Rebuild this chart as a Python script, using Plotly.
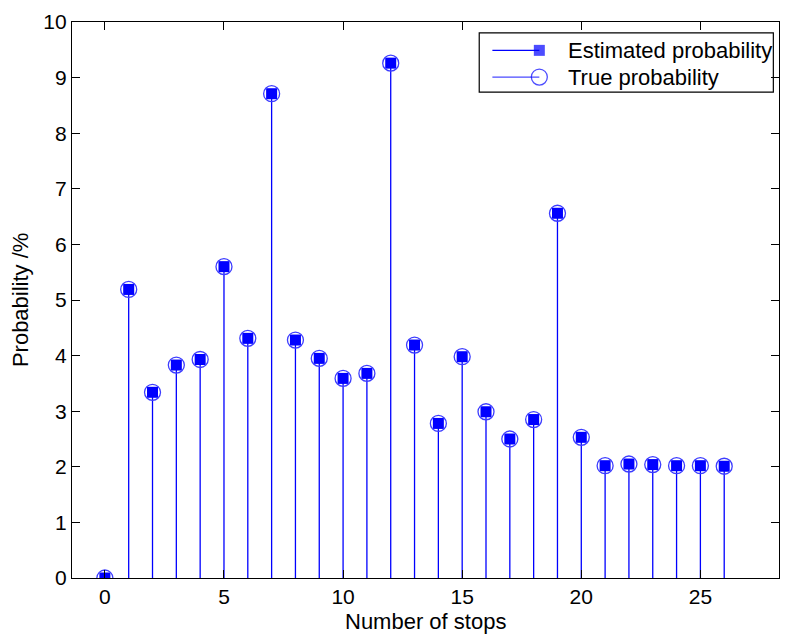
import plotly.graph_objects as go

stops = list(range(27))
estimated = [0.00, 5.19, 3.34, 3.83, 3.93, 5.60, 4.31, 8.71, 4.28, 3.95, 3.59, 3.68, 9.26,
             4.19, 2.78, 3.98, 2.99, 2.50, 2.85, 6.56, 2.53, 2.02, 2.05, 2.04, 2.02, 2.02, 2.01]
true_prob = [0.00, 5.19, 3.34, 3.83, 3.93, 5.60, 4.31, 8.71, 4.28, 3.95, 3.59, 3.68, 9.26,
             4.19, 2.78, 3.98, 2.99, 2.50, 2.85, 6.56, 2.53, 2.02, 2.05, 2.04, 2.02, 2.02, 2.01]
series_names = ["Estimated probability", "True probability"]
x_ticks = [0, 5, 10, 15, 20, 25]
y_ticks = list(range(11))

FONT = "Arial, Liberation Sans, Helvetica, sans-serif"
BLUE = "#0000ff"

fig = go.Figure()

# stems + squares (estimated)
fig.add_trace(go.Scatter(
    x=stops, y=estimated, mode="markers", showlegend=False,
    marker=dict(symbol="square", size=11, color=BLUE, line=dict(width=0)),
    error_y=dict(type="data", symmetric=False, array=[0] * len(estimated),
                 arrayminus=estimated, width=0, thickness=1.3, color=BLUE),
))
# circles (true)
fig.add_trace(go.Scatter(
    x=stops, y=true_prob, mode="markers", showlegend=False,
    marker=dict(symbol="circle-open", size=16, color="#3c3cff", line=dict(width=1.3, color="#3c3cff")),
))

# ---- custom legend drawn on an overlay axis in [0,1] ----
x0, x1, xt = 0.5946, 0.661, 0.6987
rows = [0.949, 0.901]
fig.add_trace(go.Scatter(
    x=[x0, x1], y=[rows[0], rows[0]], xaxis="x2", yaxis="y2", mode="lines+markers",
    showlegend=False, hoverinfo="skip",
    line=dict(color=BLUE, width=1.2),
    marker=dict(symbol="square", size=[0, 11], color=BLUE, line=dict(width=0)),
))
fig.add_trace(go.Scatter(
    x=[x0, x1], y=[rows[1], rows[1]], xaxis="x2", yaxis="y2", mode="lines+markers",
    showlegend=False, hoverinfo="skip",
    line=dict(color="#4a4aff", width=1.2),
    marker=dict(symbol="circle-open", size=[0, 16], color=BLUE, line=dict(width=1.3, color=BLUE)),
))

fig.add_shape(type="rect", xref="paper", yref="paper", x0=0.576, x1=0.992, y0=0.874, y1=0.9805,
              line=dict(color="black", width=1.2), fillcolor="white", layer="below")

for name, yy in zip(series_names, rows):
    fig.add_annotation(x=xt, y=yy, xref="paper", yref="paper", text=name, showarrow=False,
                       xanchor="left", yanchor="middle", font=dict(family=FONT, size=22, color="black"))

fig.add_annotation(x=0.5, y=-0.078, xref="paper", yref="paper", text="Number of stops",
                   showarrow=False, xanchor="center", yanchor="middle",
                   font=dict(family=FONT, size=22, color="black"))
fig.add_annotation(x=-0.0734, y=0.5, xref="paper", yref="paper", text="Probability /%",
                   showarrow=False, textangle=-90, xanchor="center", yanchor="middle",
                   font=dict(family=FONT, size=22, color="black"))

axis_common = dict(showgrid=False, zeroline=False, showline=True, linecolor="black", linewidth=1.2,
                   mirror="ticks", ticks="inside", ticklen=8, tickwidth=1, tickcolor="black",
                   ticklabeloverflow="allow",
                   tickfont=dict(family=FONT, size=21, color="black"))

fig.update_layout(
    width=790, height=637,
    margin=dict(l=72, r=10, t=13, b=59),
    paper_bgcolor="white", plot_bgcolor="white",
    xaxis=dict(range=[-1.38, 28.3], tickvals=x_ticks, **axis_common),
    yaxis=dict(range=[0, 10], tickvals=y_ticks, **axis_common),
    xaxis2=dict(overlaying="x", range=[0, 1], visible=False, fixedrange=True),
    yaxis2=dict(overlaying="y", range=[0, 1], visible=False, fixedrange=True),
    showlegend=False,
)

fig.write_html("out.html", config={"displayModeBar": False},
               post_script="document.body.style.margin='0';document.body.style.overflow='hidden';")
